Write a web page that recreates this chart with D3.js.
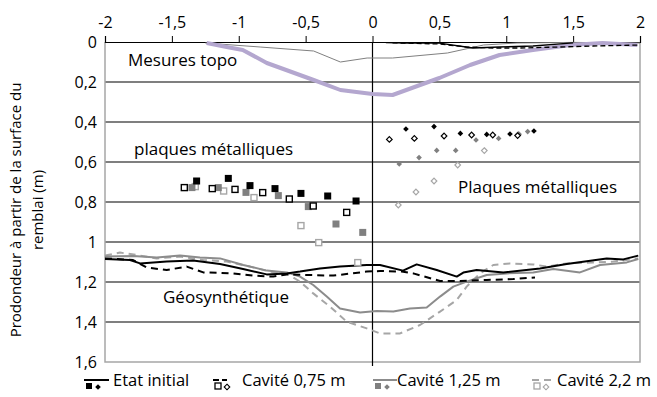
<!DOCTYPE html>
<html><head><meta charset="utf-8">
<script src="https://cdn.jsdelivr.net/npm/d3@7"></script>
<style>body{margin:0;background:#fff}svg text{font-family:"Open Sans",sans-serif;fill:#000}</style>
</head><body><svg id="c" width="657" height="397"></svg>
<script>
// ---- data ----
const xTicks = [-2,-1.5,-1,-0.5,0,0.5,1,1.5,2];
const yTicks = [0,0.2,0.4,0.6,0.8,1,1.2,1.4,1.6];
const seriesNames = ["Etat initial","Cavité 0,75 m","Cavité 1,25 m","Cavité 2,2 m"];

// topo measurements (surface)
const topoThick = [[-1.24,0.005],[-1.09,0.025],[-0.97,0.04],[-0.79,0.105],[-0.44,0.19],[-0.24,0.24],[0.0,0.26],[0.15,0.265],[0.5,0.18],[0.73,0.115],[0.95,0.065],[1.2,0.04],[1.48,0.015],[1.72,0.005],[1.98,0.015]];
const topoThin = [[-1.25,0.005],[-0.84,0.025],[-0.44,0.045],[-0.24,0.1],[-0.04,0.08],[0.15,0.08],[0.56,0.055],[0.73,0.03],[0.83,0.015],[1.08,0.005],[1.5,0.002],[2,0.005]];
const topoInitial = [[0.1,0.003],[0.25,0.006],[0.5,0.006],[0.75,0.03],[0.95,0.025],[1.2,0.02],[1.5,0.004]];
const topo075 = [[0.15,0.004],[0.5,0.01],[0.7,0.025],[0.9,0.03],[1.1,0.03],[1.4,0.025],[1.65,0.02],[2,0.015]];

// geosynthetic profiles
const geoInitial = [[-2,1.085],[-1.813,1.09],[-1.738,1.107],[-1.539,1.098],[-1.342,1.093],[-1.14,1.11],[-0.968,1.135],[-0.791,1.162],[-0.641,1.157],[-0.542,1.148],[-0.393,1.132],[-0.243,1.123],[-0.043,1.115],[0.056,1.115],[0.228,1.143],[0.33,1.112],[0.48,1.14],[0.63,1.173],[0.679,1.153],[0.779,1.14],[0.978,1.152],[1.252,1.132],[1.452,1.11],[1.751,1.082],[1.875,1.087],[1.987,1.068]];
const geo075 = [[-2,1.082],[-1.79,1.09],[-1.688,1.128],[-1.539,1.14],[-1.389,1.123],[-1.265,1.152],[-1.041,1.157],[-0.891,1.168],[-0.742,1.173],[-0.641,1.162],[-0.492,1.165],[-0.293,1.168],[-0.043,1.148],[0.056,1.145],[0.218,1.148],[0.305,1.157],[0.505,1.195],[0.654,1.195],[0.854,1.19],[1.053,1.185],[1.215,1.177]];
const geo125 = [[-2,1.073],[-1.788,1.07],[-1.613,1.077],[-1.439,1.068],[-1.29,1.077],[-1.14,1.082],[-0.966,1.115],[-0.791,1.143],[-0.641,1.152],[-0.542,1.173],[-0.443,1.215],[-0.342,1.273],[-0.243,1.332],[-0.093,1.353],[0.031,1.345],[0.156,1.348],[0.28,1.332],[0.405,1.328],[0.505,1.273],[0.604,1.223],[0.704,1.198],[0.854,1.165],[1.003,1.157],[1.202,1.152],[1.352,1.135],[1.551,1.152],[1.701,1.115],[1.901,1.102],[1.987,1.085]];
const geo22 = [[-2,1.068],[-1.888,1.053],[-1.763,1.065],[-1.613,1.082],[-1.439,1.073],[-1.265,1.09],[-1.09,1.098],[-0.916,1.123],[-0.766,1.148],[-0.641,1.157],[-0.542,1.198],[-0.443,1.257],[-0.318,1.323],[-0.193,1.398],[-0.043,1.432],[0.056,1.457],[0.206,1.457],[0.355,1.415],[0.505,1.348],[0.63,1.29],[0.704,1.223],[0.804,1.157],[0.903,1.115],[1.028,1.107],[1.202,1.112],[1.302,1.123],[1.452,1.107],[1.651,1.102],[1.801,1.098],[1.987,1.082]];

// metal plates: left (squares) and right (diamonds)
const plInitL = [[-1.315,0.695],[-1.078,0.682],[-0.916,0.718],[-0.729,0.733],[-0.535,0.757],[-0.335,0.77],[-0.123,0.795]];
const pl075L = [[-1.407,0.728],[-1.198,0.733],[-1.028,0.737],[-0.821,0.753],[-0.622,0.785],[-0.443,0.82],[-0.193,0.852]];
const pl125L = [[-1.35,0.728],[-1.153,0.728],[-0.946,0.752],[-0.704,0.768],[-0.48,0.823],[-0.273,0.91],[-0.073,0.952]];
const pl22L = [[-1.325,0.723],[-1.113,0.745],[-0.886,0.778],[-0.535,0.918],[-0.402,1.003],[-0.11,1.103]];
const plInitR = [[0.25,0.435],[0.46,0.423],[0.657,0.457],[0.854,0.462],[1.028,0.46],[1.207,0.445]];
const pl075R = [[0.126,0.487],[0.313,0.482],[0.535,0.47],[0.741,0.465],[0.899,0.465],[1.085,0.468]];
const pl125R = [[0.2,0.61],[0.348,0.578],[0.48,0.542],[0.622,0.542],[0.774,0.49],[0.943,0.482],[1.095,0.46],[1.16,0.448]];
const pl22R = [[0.193,0.815],[0.325,0.75],[0.46,0.695],[0.637,0.615],[0.836,0.543],[1.09,0.462]];

// ---- drawing ----
const svg = d3.select("#c");
const L=105, R=640, T=42, B=362;
const x = d3.scaleLinear().domain([-2,2]).range([L,R]);
const y = d3.scaleLinear().domain([0,1.6]).range([T,B]);

// gridlines
svg.append("g").selectAll("line").data(yTicks.filter(d=>d>0&&d<1.6)).join("line")
  .attr("x1",L).attr("x2",R).attr("y1",d=>y(d)).attr("y2",d=>y(d))
  .attr("stroke","#000").attr("stroke-width",1.2);
// plot border
svg.append("path").attr("d",`M${L},${T}V${B}H${R}V${T}`).attr("fill","none").attr("stroke","#a6a6a6").attr("stroke-width",1.5);

// top x axis
const xa = svg.append("g").attr("transform",`translate(0,${T})`)
  .call(d3.axisTop(x).tickValues(xTicks).tickSize(6).tickPadding(8).tickFormat(d=>String(d).replace(".",",")));
xa.select(".domain").attr("stroke","#000").attr("stroke-width",1.2);
xa.selectAll("text").attr("font-size",16).attr("font-family","Open Sans");
// vertical axis at x=0
svg.append("line").attr("x1",x(0)).attr("x2",x(0)).attr("y1",T).attr("y2",B+4).attr("stroke","#000").attr("stroke-width",1.2);
// y labels
svg.append("g").selectAll("text").data(yTicks).join("text")
  .attr("x",L-8).attr("y",d=>y(d)).attr("dy","0.35em").attr("text-anchor","end")
  .attr("font-size",16).text(d=>String(d).replace(".",","));
// y title
const yt = svg.append("text").attr("transform",`translate(21,${(T+B)/2+8}) rotate(-90)`).attr("text-anchor","middle").attr("font-size",15);
yt.append("tspan").attr("x",0).attr("dy","0").text("Prodondeur à partir de la surface du");
yt.append("tspan").attr("x",0).attr("dy","1.45em").text("remblai (m)");

const line = d3.line().x(d=>x(d[0])).y(d=>y(d[1]));
function drawLine(data,color,w,dash){
  svg.append("path").datum(data).attr("d",line).attr("fill","none").attr("stroke",color)
    .attr("stroke-width",w).attr("stroke-dasharray",dash||null).attr("stroke-linejoin","round");
}
drawLine(topoThin,"#808080",1);
drawLine(topoThick,"#b4a7cf",4);
drawLine(topoInitial,"#000",1.3);
drawLine(topo075,"#000",1.3,"5,3");

drawLine(geo22,"#a6a6a6",2,"7,5");
drawLine(geo125,"#8c8c8c",2);
drawLine(geo075,"#000",2,"7,5");
drawLine(geoInitial,"#000",2);

function squares(data,color,filled){
  const s = filled?7:6;
  svg.append("g").selectAll("rect").data(data).join("rect")
    .attr("x",d=>x(d[0])-s/2).attr("y",d=>y(d[1])-s/2).attr("width",s).attr("height",s)
    .attr("fill",filled?color:"#fff").attr("stroke",filled?"none":color).attr("stroke-width",1.4);
}
const diamond = d3.symbol().type(d3.symbolDiamond2).size(20);
function diamonds(data,color,filled){
  svg.append("g").selectAll("path").data(data).join("path")
    .attr("transform",d=>`translate(${x(d[0])},${y(d[1])})`).attr("d",diamond)
    .attr("fill",filled?color:"#fff").attr("stroke",filled?"none":color).attr("stroke-width",1.2);
}
squares(pl22L,"#a6a6a6",false); squares(pl125L,"#808080",true); squares(pl075L,"#000",false); squares(plInitL,"#000",true);
diamonds(pl22R,"#a6a6a6",false); diamonds(pl125R,"#808080",true); diamonds(pl075R,"#000",false); diamonds(plInitR,"#000",true);

// annotations
const ann = [["Mesures topo",128,66],["plaques métalliques",134,155],["Plaques métalliques",458,193],["Géosynthétique",163,303]];
svg.append("g").selectAll("text").data(ann).join("text").attr("x",d=>d[1]).attr("y",d=>d[2]).attr("font-size",17).text(d=>d[0]);

// legend
const legIcon = [84,213,373,532], legLen=[25,14,24,20], legText=[113,242,397,557];
const legStyle = [["#000",null,"#000",true],["#000","6,3","#000",false],["#8c8c8c",null,"#808080",true],["#a6a6a6","7,5","#a6a6a6",false]];
seriesNames.forEach((n,i)=>{
  const g = svg.append("g").attr("transform",`translate(${legIcon[i]},0)`);
  const [lc,da,mc,f] = legStyle[i];
  g.append("line").attr("x1",0).attr("x2",legLen[i]).attr("y1",380).attr("y2",380).attr("stroke",lc).attr("stroke-width",2).attr("stroke-dasharray",da);
  g.append("rect").attr("x",2).attr("y",383).attr("width",6).attr("height",6).attr("fill",f?mc:"#fff").attr("stroke",f?"none":mc).attr("stroke-width",1.3);
  g.append("path").attr("transform","translate(14,387)").attr("d",diamond).attr("fill",f?mc:"#fff").attr("stroke",f?"none":mc).attr("stroke-width",1.1);
  g.append("text").attr("x",legText[i]-legIcon[i]).attr("y",386).attr("font-size",16.5).text(n);
});
</script></body></html>
